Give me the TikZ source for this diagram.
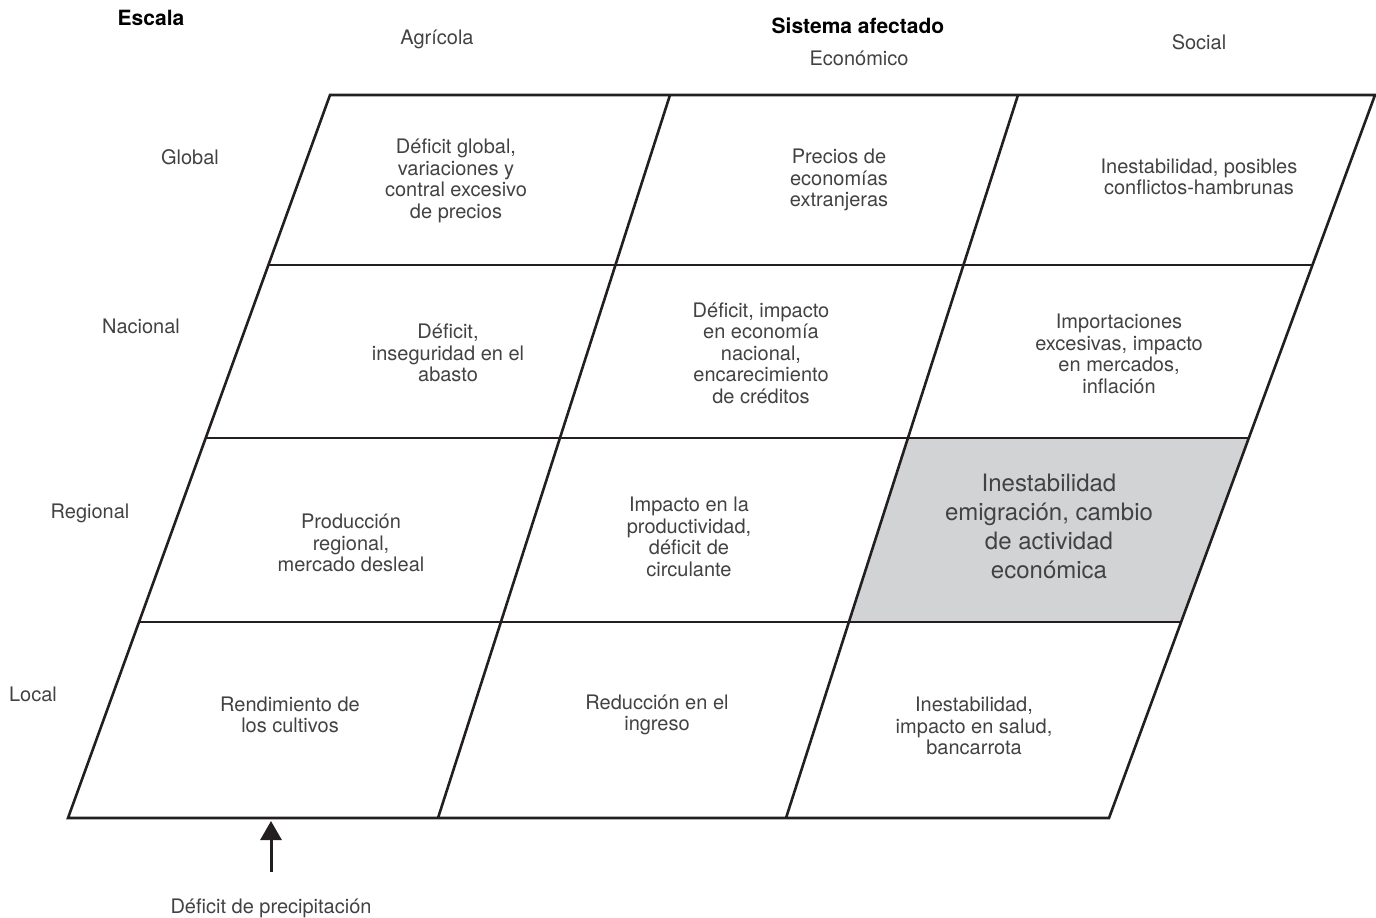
\documentclass[tikz,border=0pt]{standalone}
\usepackage{fontspec}
\setmainfont{TeX Gyre Heros}
\usetikzlibrary{arrows.meta,calc}
\definecolor{ink}{HTML}{231F20}
\definecolor{txt}{HTML}{424242}
\definecolor{hl}{HTML}{D1D3D4}
\begin{document}
\begin{tikzpicture}[x=1pt,y=-1pt,
  grid/.style={draw=ink,line width=2.6pt,line join=miter},
  cell/.style={align=center,text=txt,font=\fontsize{20}{21.5}\selectfont,inner sep=0pt},
  big/.style={align=center,text=txt,font=\fontsize{24}{29}\selectfont,inner sep=0pt},
  lab/.style={text=txt,font=\fontsize{20}{22}\selectfont,anchor=base,inner sep=0pt},
  head/.style={text=black,font=\bfseries\fontsize{21}{23}\selectfont,anchor=base,inner sep=0pt},
  arr/.style={draw=ink,line width=3pt,-{Triangle[width=21pt,length=19pt]}}]
\useasboundingbox (0,0) rectangle (1376,918);
% grid corners
\coordinate (a0) at (330,95);  \coordinate (a4) at (68,818);
\coordinate (b0) at (670,95);  \coordinate (b4) at (438,818);
\coordinate (c0) at (1018,95); \coordinate (c4) at (786,818);
\coordinate (d0) at (1375,95); \coordinate (d4) at (1109,818);
\foreach \v in {a,b,c,d}{
  \coordinate (\v1) at ($(\v0)!0.2351!(\v4)$);
  \coordinate (\v2) at ($(\v0)!0.4744!(\v4)$);
  \coordinate (\v3) at ($(\v0)!0.7289!(\v4)$);
}
% highlighted cell
\fill[hl] (c2) -- (d2) -- (d3) -- (c3) -- cycle;
% grid lines
\draw[grid] (a0) -- (d0) -- (d4) -- (a4) -- cycle;
\draw[grid] (b0) -- (b4);
\draw[grid] (c0) -- (c4);
\draw[grid] (a1) -- (d1);
\draw[grid] (a2) -- (d2);
\draw[grid] (a3) -- (d3);
% headers
\node[head] (escala) at (151,25) {Escala};
\node[head] (sist) at (858,33) {Sistema afectado};
\node[lab] (agr) at (437,44) {Agrícola};
\node[lab] (eco) at (859,65) {Económico};
\node[lab] (soc) at (1199,49) {Social};
% row labels
\node[lab] (glo) at (190,164) {Global};
\node[lab] (nac) at (141,333) {Nacional};
\node[lab] (reg) at (90,518) {Regional};
\node[lab] (loc) at (33,701) {Local};
% cells
\node[cell] (ga) at (456,181) {Déficit global,\\variaciones y\\contral excesivo\\de precios};
\node[cell] (ge) at (839,180) {Precios de\\economías\\extranjeras};
\node[cell] (gs) at (1199,177) {Inestabilidad, posibles\\conflictos-hambrunas};
\node[cell] (na) at (448,353) {Déficit,\\inseguridad en el\\abasto};
\node[cell] (ne) at (761,353) {Déficit, impacto\\en economía\\nacional,\\encarecimiento\\de créditos};
\node[cell] (ns) at (1119,354) {Importaciones\\excesivas, impacto\\en mercados,\\inflación};
\node[cell] (ra) at (351,543) {Producción\\regional,\\mercado desleal};
\node[cell] (re) at (689,537) {Impacto en la\\productividad,\\déficit de\\circulante};
\node[big] (rs) at (1049,526) {Inestabilidad\\emigración, cambio\\de actividad\\económica};
\node[cell] (la) at (290,715) {Rendimiento de\\los cultivos};
\node[cell] (le) at (657,715) {Reducción en el\\ingreso};
\node[cell] (ls) at (974,726) {Inestabilidad,\\impacto en salud,\\bancarrota};
% arrow
\node[lab] (prec) at (271,913) {Déficit de precipitación};
\coordinate (tip) at (271,821);
\draw[arr, shorten <=26pt] (prec.north) -- (tip);
\end{tikzpicture}
\end{document}
